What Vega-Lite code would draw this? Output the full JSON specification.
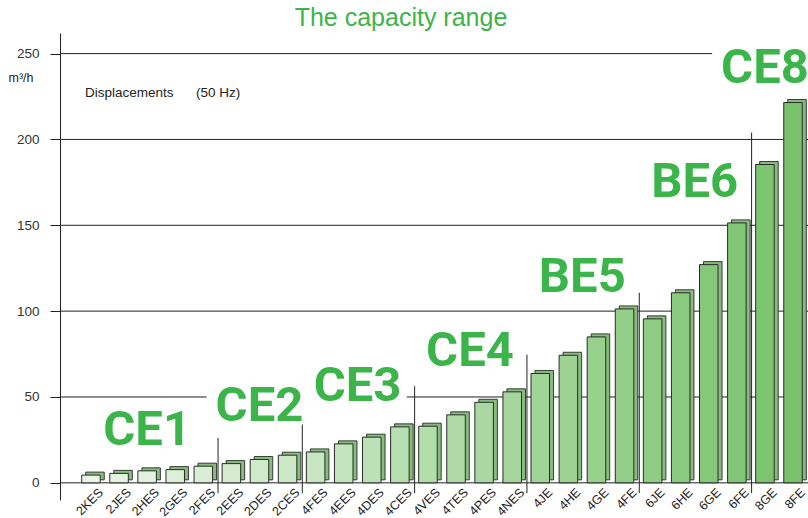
{
  "$schema": "https://vega.github.io/schema/vega-lite/v6.json",
  "width": 764,
  "height": 467,
  "autosize": {"type": "none"},
  "padding": {"left": 60, "top": 33, "right": -16, "bottom": 18},
  "background": "white",
  "title": {
    "text": "The capacity range",
    "font": "Liberation Sans",
    "fontSize": 25,
    "fontWeight": "normal",
    "color": "#3cb44a",
    "anchor": "middle",
    "dx": -41,
    "offset": -18,
    "baseline": "alphabetic"
  },
  "config": {
    "view": {"stroke": null},
    "font": "Liberation Sans",
    "axis": {"labelFont": "Liberation Sans", "titleFont": "Liberation Sans"}
  },
  "datasets": {
    "bars": [
      {"model": "2KES", "value": 4.5},
      {"model": "2JES", "value": 5.5},
      {"model": "2HES", "value": 7},
      {"model": "2GES", "value": 7.7},
      {"model": "2FES", "value": 9.7},
      {"model": "2EES", "value": 11.2},
      {"model": "2DES", "value": 13.6},
      {"model": "2CES", "value": 16.1},
      {"model": "4FES", "value": 18},
      {"model": "4EES", "value": 22.7},
      {"model": "4DES", "value": 26.6},
      {"model": "4CES", "value": 32.6},
      {"model": "4VES", "value": 33},
      {"model": "4TES", "value": 39.6},
      {"model": "4PES", "value": 46.9},
      {"model": "4NES", "value": 53},
      {"model": "4JE", "value": 63.7},
      {"model": "4HE", "value": 74.3},
      {"model": "4GE", "value": 85},
      {"model": "4FE", "value": 101.3},
      {"model": "6JE", "value": 95.5},
      {"model": "6HE", "value": 110.7},
      {"model": "6GE", "value": 127.1},
      {"model": "6FE", "value": 151.4},
      {"model": "8GE", "value": 185.4},
      {"model": "8FE", "value": 221.5}
    ],
    "separators": [
      {"model": "2EES", "top": 26.2},
      {"model": "4FES", "top": 34},
      {"model": "4VES", "top": 56.3},
      {"model": "4JE", "top": 74.7},
      {"model": "6JE", "top": 110.7},
      {"model": "8GE", "top": 204}
    ],
    "labelsCentered": [
      {"model": "2HES", "label": "CE1", "y": 22.3},
      {"model": "2DES", "label": "CE2", "y": 35.9},
      {"model": "8GE", "label": "CE8", "y": 233}
    ],
    "labelsBetween": [
      {"model": "4EES", "label": "CE3", "y": 47.5},
      {"model": "4TES", "label": "CE4", "y": 67.9},
      {"model": "4HE", "label": "BE5", "y": 111},
      {"model": "6HE", "label": "BE6", "y": 166.6}
    ]
  },
  "layer": [
    {
      "data": {"values": [{"v": 0}, {"v": 100}, {"v": 150}, {"v": 200}]},
      "mark": {"type": "rule", "color": "#222222", "strokeWidth": 1},
      "encoding": {
        "y": {"field": "v", "type": "quantitative", "scale": {"domain": [-10, 262], "nice": false, "zero": false}}
      }
    },
    {
      "data": {"values": [{"v": 50, "begin": "2KES", "end": "2FES"}, {"v": 250, "begin": "2KES", "end": "6GE"}]},
      "mark": {"type": "rule", "color": "#222222", "strokeWidth": 1},
      "encoding": {
        "x": {"field": "end", "type": "nominal", "bandPosition": 0.68, "title": null,
              "scale": {"domain": ["2KES","2JES","2HES","2GES","2FES","2EES","2DES","2CES","4FES","4EES","4DES","4CES","4VES","4TES","4PES","4NES","4JE","4HE","4GE","4FE","6JE","6HE","6GE","6FE","8GE","8FE"], "paddingInner": 0.34, "paddingOuter": 0.773}},
        "x2": {"field": "begin", "bandPosition": -1.17},
        "y": {"field": "v", "type": "quantitative", "scale": {"domain": [-10, 262], "nice": false, "zero": false}}
      }
    },
    {
      "data": {"values": [{"v": 50, "start": "4CES", "stop": "8FE"}]},
      "mark": {"type": "rule", "color": "#222222", "strokeWidth": 1},
      "encoding": {
        "x": {"field": "start", "type": "nominal", "bandPosition": 0.87, "title": null,
              "scale": {"domain": ["2KES","2JES","2HES","2GES","2FES","2EES","2DES","2CES","4FES","4EES","4DES","4CES","4VES","4TES","4PES","4NES","4JE","4HE","4GE","4FE","6JE","6HE","6GE","6FE","8GE","8FE"], "paddingInner": 0.34, "paddingOuter": 0.773}},
        "x2": {"field": "stop"},
        "y": {"field": "v", "type": "quantitative", "scale": {"domain": [-10, 262], "nice": false, "zero": false}}
      }
    },
    {
      "data": {"name": "separators"},
      "mark": {"type": "rule", "color": "#222222", "strokeWidth": 1},
      "encoding": {
        "x": {"field": "model", "type": "nominal", "bandPosition": -0.22, "title": null,
              "scale": {"domain": ["2KES","2JES","2HES","2GES","2FES","2EES","2DES","2CES","4FES","4EES","4DES","4CES","4VES","4TES","4PES","4NES","4JE","4HE","4GE","4FE","6JE","6HE","6GE","6FE","8GE","8FE"], "paddingInner": 0.34, "paddingOuter": 0.773}},
        "y": {"field": "top", "type": "quantitative", "scale": {"domain": [-10, 262], "nice": false, "zero": false}},
        "y2": {"datum": -6}
      }
    },
    {
      "data": {"name": "bars"},
      "mark": {"type": "bar", "fill": "#86bd7c", "stroke": "#2a2a2a", "strokeWidth": 0.9, "xOffset": 4, "yOffset": -3},
      "encoding": {
        "x": {"field": "model", "type": "nominal", "title": null,
              "scale": {"domain": ["2KES","2JES","2HES","2GES","2FES","2EES","2DES","2CES","4FES","4EES","4DES","4CES","4VES","4TES","4PES","4NES","4JE","4HE","4GE","4FE","6JE","6HE","6GE","6FE","8GE","8FE"], "paddingInner": 0.34, "paddingOuter": 0.773}},
        "y": {"field": "value", "type": "quantitative", "scale": {"domain": [-10, 262], "nice": false, "zero": false}}
      }
    },
    {
      "data": {"name": "bars"},
      "mark": {"type": "bar", "stroke": "#2a2a2a", "strokeWidth": 1},
      "encoding": {
        "x": {"field": "model", "type": "nominal", "title": null,
              "scale": {"domain": ["2KES","2JES","2HES","2GES","2FES","2EES","2DES","2CES","4FES","4EES","4DES","4CES","4VES","4TES","4PES","4NES","4JE","4HE","4GE","4FE","6JE","6HE","6GE","6FE","8GE","8FE"], "paddingInner": 0.34, "paddingOuter": 0.773},
              "axis": {"domain": false, "ticks": false, "labelAngle": -45, "labelAlign": "right", "labelBaseline": "middle", "labelOffset": 10, "labelPadding": -10, "labelFontSize": 12.5, "labelColor": "#222222"}},
        "y": {"field": "value", "type": "quantitative", "title": "m³/h",
              "scale": {"domain": [-10, 262], "nice": false, "zero": false},
              "axis": {"values": [0, 50, 100, 150, 200, 250], "grid": false, "tickSize": 10, "tickColor": "#222222", "domainColor": "#222222", "labelFontSize": 13.5, "labelPadding": 11, "labelColor": "#333333",
                       "titleAngle": 0, "titleAlign": "left", "titleBaseline": "alphabetic", "titleX": -52, "titleY": 48, "titleFontSize": 12.5, "titleFontWeight": "normal", "titleColor": "#222222"}},
        "color": {"field": "model", "type": "nominal", "legend": null,
                  "scale": {"domain": ["2KES","2JES","2HES","2GES","2FES","2EES","2DES","2CES","4FES","4EES","4DES","4CES","4VES","4TES","4PES","4NES","4JE","4HE","4GE","4FE","6JE","6HE","6GE","6FE","8GE","8FE"],
                            "range": ["#ebf5e8","#e6f3e3","#e2f1de","#ddefd9","#d9edd4","#d4ebcf","#cfe9ca","#cbe7c5","#c6e5c0","#c2e3bb","#bde1b6","#b8dfb1","#b4ddac","#afdaa7","#abd8a2","#a6d69d","#a1d498","#9dd293","#98d08e","#94ce89","#8fcc84","#8aca7f","#86c87a","#81c675","#7dc470","#78c26b"]}}
      }
    },
    {
      "data": {"name": "labelsCentered"},
      "mark": {"type": "text", "font": "Roboto", "fontWeight": "bold", "fontSize": 49, "color": "#3bb44a", "align": "center", "baseline": "alphabetic"},
      "encoding": {
        "x": {"field": "model", "type": "nominal", "title": null,
              "scale": {"domain": ["2KES","2JES","2HES","2GES","2FES","2EES","2DES","2CES","4FES","4EES","4DES","4CES","4VES","4TES","4PES","4NES","4JE","4HE","4GE","4FE","6JE","6HE","6GE","6FE","8GE","8FE"], "paddingInner": 0.34, "paddingOuter": 0.773}},
        "y": {"field": "y", "type": "quantitative", "scale": {"domain": [-10, 262], "nice": false, "zero": false}},
        "text": {"field": "label"}
      }
    },
    {
      "data": {"name": "labelsBetween"},
      "mark": {"type": "text", "font": "Roboto", "fontWeight": "bold", "fontSize": 49, "color": "#3bb44a", "align": "center", "baseline": "alphabetic"},
      "encoding": {
        "x": {"field": "model", "type": "nominal", "bandPosition": 1.25, "title": null,
              "scale": {"domain": ["2KES","2JES","2HES","2GES","2FES","2EES","2DES","2CES","4FES","4EES","4DES","4CES","4VES","4TES","4PES","4NES","4JE","4HE","4GE","4FE","6JE","6HE","6GE","6FE","8GE","8FE"], "paddingInner": 0.34, "paddingOuter": 0.773}},
        "y": {"field": "y", "type": "quantitative", "scale": {"domain": [-10, 262], "nice": false, "zero": false}},
        "text": {"field": "label"}
      }
    },
    {
      "data": {"values": [{"model": "2KES", "y": 225, "label": "Displacements\u00a0\u00a0\u00a0\u00a0\u00a0\u00a0(50 Hz)"}]},
      "mark": {"type": "text", "font": "Liberation Sans", "fontSize": 13.5, "color": "#222222", "align": "left", "baseline": "alphabetic"},
      "encoding": {
        "x": {"field": "model", "type": "nominal", "bandPosition": 0.18, "title": null,
              "scale": {"domain": ["2KES","2JES","2HES","2GES","2FES","2EES","2DES","2CES","4FES","4EES","4DES","4CES","4VES","4TES","4PES","4NES","4JE","4HE","4GE","4FE","6JE","6HE","6GE","6FE","8GE","8FE"], "paddingInner": 0.34, "paddingOuter": 0.773}},
        "y": {"field": "y", "type": "quantitative", "scale": {"domain": [-10, 262], "nice": false, "zero": false}},
        "text": {"field": "label"}
      }
    }
  ]
}
